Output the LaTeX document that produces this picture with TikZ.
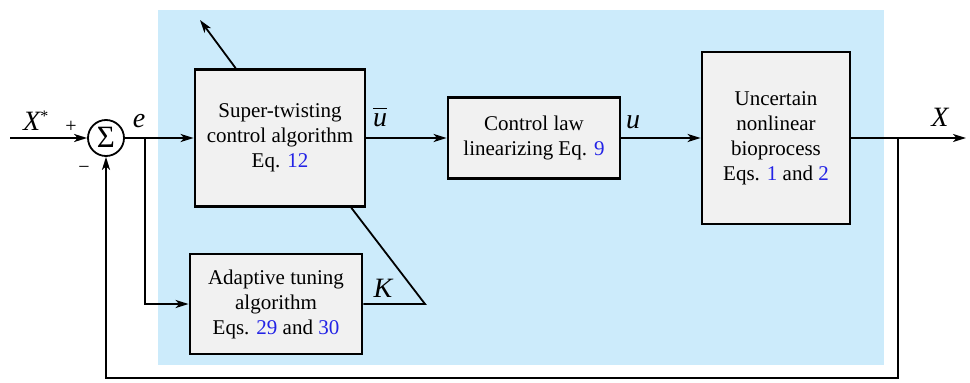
\documentclass[tikz,border=0pt]{standalone}
\usepackage{fontspec}
\setmainfont{Liberation Serif}
\usetikzlibrary{calc,positioning,arrows.meta}
\definecolor{panelblue}{RGB}{204,235,251}
\definecolor{boxgray}{RGB}{241,241,241}
\definecolor{eqblue}{RGB}{35,35,230}
\tikzset{
  blk/.style={draw,line width=2.8pt,fill=boxgray,align=center,inner sep=2pt,
    font=\fontsize{21}{25}\selectfont},
  sumnode/.style={draw,circle,line width=1.8pt,fill=white,minimum size=36pt,inner sep=0pt,
    font=\fontsize{31}{31}\selectfont},
  conn/.style={line width=1.8pt},
  arr/.style={conn,-{Stealth[length=13pt,width=8pt,inset=3.5pt]}},
  lbl/.style={font=\fontsize{28}{30}\selectfont\itshape},
  sgn/.style={font=\fontsize{20}{22}\selectfont}
}
\newcommand{\eqref}[1]{\textcolor{eqblue}{#1}}
\begin{document}
\begin{tikzpicture}[x=1pt,y=-1pt]
\useasboundingbox (0,0) rectangle (970,383);
\fill[panelblue] (158,10) rectangle (884,365);

% blocks
\node[sumnode] (sum) at (106,138) {\raisebox{1pt}{Σ}};
\node[blk,minimum width=170pt,minimum height=137pt] (stw) at (280,138)
  {Super-twisting\\control algorithm\\Eq. \eqref{12}};
\node[blk,minimum width=172pt,minimum height=100pt] (adapt) at (276,304)
  {Adaptive tuning\\algorithm\\Eqs. \eqref{29} and \eqref{30}};
\node[blk,minimum width=172pt,minimum height=81pt] (clin) at (534,138)
  {Control law\\linearizing Eq. \eqref{9}};
\node[blk,minimum width=148pt,minimum height=172pt] (bio) at (776,138)
  {Uncertain\\nonlinear\\bioprocess\\Eqs. \eqref{1} and \eqref{2}};

% free ends and branch points
\coordinate (in) at (10,138);
\coordinate (out) at (966,138);
\coordinate (br) at (145,138);
\coordinate (fb) at (898,138);
\coordinate (kpt) at (425,304);
\coordinate (tw) at ($(stw.south east)+(-15,0)$);
\coordinate (tip) at (200,20);

% connectors
\draw[arr] (in) -- (sum.west);
\draw[arr] (sum.east) -- (stw.west);
\draw[arr] (br) |- (adapt.west);
\draw[arr] (stw.east) -- (clin.west);
\draw[arr] (clin.east) -- (bio.west);
\draw[arr] (bio.east) -- (out);
\draw[arr] (fb) |- (106,378) -- (sum.south);
\draw[conn] (adapt.east |- kpt) -- (kpt) -- (tw);
\draw[arr] ($(stw.north west)+(42,0)$) -- (tip);

% labels
\node[lbl] (xref) at (36,121) {X\textsuperscript{\fontsize{16}{16}\selectfont\upshape *}};
\node[sgn] (plus) at (71,127) {+};
\node[sgn] (minus) at (84,170) {\textminus};
\node[lbl] (elbl) at (139,121) {e};
\node[lbl] (ubar) at (380,117) {$\overline{\vphantom{b}\textit{u}}$};
\node[lbl] (ulbl) at (633,122) {u};
\node[lbl] (xout) at (940,117) {X};
\node[lbl] (klbl) at (383,288) {K};
\end{tikzpicture}
\end{document}
